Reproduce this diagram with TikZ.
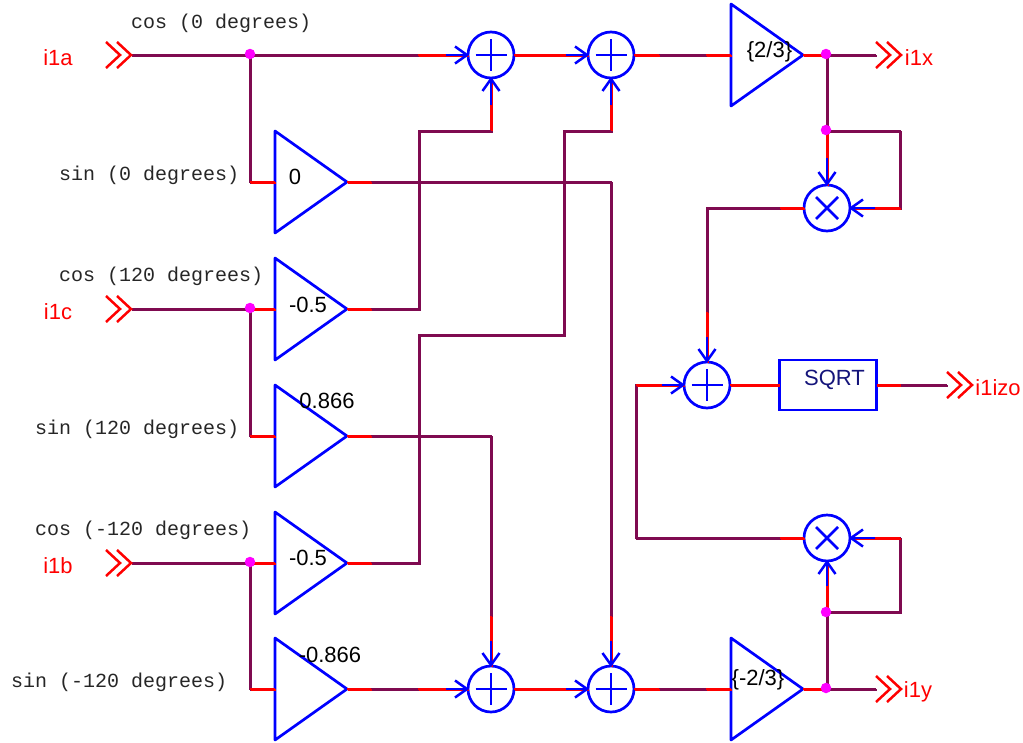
\documentclass[tikz,border=0pt]{standalone}
\usepackage{fontspec}
\setmainfont{Liberation Sans}
\newfontfamily\monof{Liberation Mono}
\usetikzlibrary{calc,arrows.meta,shapes.geometric}
\definecolor{wirec}{HTML}{7F0A50}
\definecolor{redc}{HTML}{FF0000}
\definecolor{bluec}{HTML}{0000FF}
\definecolor{dotc}{HTML}{FF00FF}
\definecolor{navyc}{HTML}{14147A}
\pgfdeclarearrow{
  name = VBarb,
  setup code = {\pgfarrowssettipend{1pt}\pgfarrowssetlineend{-1pt}\pgfarrowssetbackend{-12pt}\pgfarrowssetvisualbackend{-1pt}},
  drawing code = {\pgfsetlinewidth{2.5pt}\pgfsetmiterjoin\pgfsetbuttcap
    \pgfpathmoveto{\pgfqpoint{-12pt}{8.5pt}}\pgfpathlineto{\pgfqpoint{0pt}{0pt}}\pgfpathlineto{\pgfqpoint{-12pt}{-8.5pt}}\pgfusepathqstroke},
  defaults = {}
}
\tikzset{
  wire/.style={draw=wirec,line width=2.6pt,line join=miter,preaction={draw=wirec,line width=2.6pt,transform canvas={shift={(0.9pt,-0.9pt)}}}},
  stub/.style={draw=redc,line width=2.6pt,preaction={draw=redc,line width=2.6pt,transform canvas={shift={(0.9pt,-0.9pt)}}}},
  feed/.style={draw=bluec,line width=2.98pt,-{VBarb}},
  gain/.style={draw=bluec,line width=2.7pt,isosceles triangle,isosceles triangle stretches,minimum width=102pt,minimum height=72pt,inner sep=0pt,outer sep=0pt,anchor=lower side,line join=round},
  sumn/.style={draw=bluec,line width=2.7pt,circle,minimum size=46pt,inner sep=0pt,outer sep=0pt,
    path picture={\draw[bluec,line width=2.5pt] (path picture bounding box.center) +(-15.5,0) -- +(15.5,0) +(0,-16) -- +(0,16);}},
  muln/.style={draw=bluec,line width=2.7pt,circle,minimum size=46pt,inner sep=0pt,outer sep=0pt,
    path picture={\draw[bluec,line width=2.5pt] (path picture bounding box.center) +(-11,-11) -- +(11,11) +(-11,11) -- +(11,-11);}},
  boxn/.style={draw=bluec,line width=2.98pt,rectangle,minimum width=97pt,minimum height=50pt,inner sep=0pt,outer sep=0pt},
  dotn/.style={fill=dotc,circle,minimum size=10.5pt,inner sep=0pt,outer sep=0pt},
  chevn/.style={inner sep=0pt,outer sep=0pt,minimum size=0pt},
  chevs/.style={draw=redc,line width=2.5pt},
  redtext/.style={text=redc,font=\fontsize{22}{22}\selectfont,inner sep=0pt},
  gaintext/.style={text=black,font=\fontsize{22}{22}\selectfont,inner sep=0pt},
  monotext/.style={text=black!85,font=\monof\fontsize{20}{20}\selectfont,inner sep=0pt,anchor=west},
}
\newcommand{\chevat}[1]{\draw[chevs] (#1) ++(-14,-13) -- ++(14,13) -- ++(-14,13);
  \draw[chevs] (#1) ++(-25,-13) -- ++(14,13) -- ++(-14,13);}
\begin{document}
\begin{tikzpicture}[x=1pt,y=-1pt]
\useasboundingbox (0,0) rectangle (1023,742);
% ports
\node[chevn] (ia) at (131,55) {};
\node[chevn] (ic) at (131,309) {};
\node[chevn] (ib) at (131,563) {};
\node[chevn] (ox) at (901,55) {};
\node[chevn] (oy) at (901,689) {};
\node[chevn] (oz) at (972,385) {};
\node[chevn] (oxin) at (876,55) {};
\node[chevn] (oyin) at (876,689) {};
\node[chevn] (ozin) at (947,385) {};
% blocks
\node[gain] (t1) at (275,182) {};
\node[gain] (t2) at (275,309) {};
\node[gain] (t3) at (275,436) {};
\node[gain] (t4) at (275,563) {};
\node[gain] (t5) at (275,689) {};
\node[gain] (gx) at (731,55) {};
\node[gain] (gy) at (731,689) {};
\node[sumn] (s1) at (491,55) {};
\node[sumn] (s2) at (611,55) {};
\node[sumn] (s3) at (491,689) {};
\node[sumn] (s4) at (611,689) {};
\node[sumn] (s5) at (707,385) {};
\node[muln] (m1) at (827,208) {};
\node[muln] (m2) at (827,538) {};
\node[boxn] (sq) at (828,385) {};
% junction coordinates
\coordinate (ja) at (250,55);
\coordinate (jc) at (250,309);
\coordinate (jb) at (250,563);
\coordinate (jx) at (827,55);
\coordinate (jy) at (827,689);
\coordinate (lx) at (827,131);
\coordinate (ly) at (827,612);
% purple wires
\draw[wire] (ia.center) -- (s1.west);
\draw[wire] (ja) |- (t1.lower side);
\draw[wire] (ic.center) -- (t2.lower side);
\draw[wire] (jc) |- (t3.lower side);
\draw[wire] (ib.center) -- (t4.lower side);
\draw[wire] (jb) |- (t5.lower side);
\draw[wire] (t1.apex) -| (s4.north);
\draw[wire] (t2.apex) -| (419,131) -| (s1.south);
\draw[wire] (t3.apex) -| (s3.north);
\draw[wire] (t4.apex) -| (419,335) -| (564,131) -| (s2.south);
\draw[wire] (t5.apex) -- (s3.west);
\draw[wire] (s1.east) -- (s2.west);
\draw[wire] (s2.east) -- (gx.lower side);
\draw[wire] (s3.east) -- (s4.west);
\draw[wire] (s4.east) -- (gy.lower side);
\draw[wire] (gx.apex) -- (oxin.center);
\draw[wire] (gy.apex) -- (oyin.center);
\draw[wire] (jx) -- (lx);
\draw[wire] (jy) -- (ly);
\draw[wire] (lx) -- (900,131) |- (m1.east);
\draw[wire] (ly) -- (900,612) |- (m2.east);
\draw[wire] (m1.west) -| (s5.north);
\draw[wire] (m2.west) -- (636,538) |- (s5.west);
\draw[wire] (sq.east) -- (ozin.center);
% red stubs
\draw[stub] (jc) -- (t2.lower side);
\draw[stub] (jb) -- (t4.lower side);
\draw[stub] (250,182) -- (t1.lower side);
\draw[stub] (250,436) -- (t3.lower side);
\draw[stub] (250,689) -- (t5.lower side);
\foreach \n in {t1,t2,t3,t4,t5} {\draw[stub] (\n.apex) -- +(24,0);}
\draw[stub] (gx.apex) -- (jx);
\draw[stub] (gy.apex) -- (jy);
\draw[stub] (s1.west) -- +(-50,0);
\draw[stub] (s3.west) -- +(-50,0);
\draw[stub] (s1.east) -- (s2.west);
\draw[stub] (s3.east) -- (s4.west);
\draw[stub] (s2.east) -- +(25,0);
\draw[stub] (s4.east) -- +(25,0);
\draw[stub] (gx.lower side) -- +(-25,0);
\draw[stub] (gy.lower side) -- +(-25,0);
\draw[stub] (s1.south) -- +(0,52);
\draw[stub] (s2.south) -- +(0,52);
\draw[stub] (s3.north) -- +(0,-50);
\draw[stub] (s4.north) -- +(0,-50);
\draw[stub] (lx) -- (m1.north);
\draw[stub] (ly) -- (m2.south);
\draw[stub] (m1.east) -- +(50,0);
\draw[stub] (m2.east) -- +(50,0);
\draw[stub] (m1.west) -- +(-24,0);
\draw[stub] (m2.west) -- +(-24,0);
\draw[stub] (s5.north) -- +(0,-50);
\draw[stub] (s5.west) -- (636,385);
\draw[stub] (s5.east) -- (sq.west);
\draw[stub] (sq.east) -- +(24,0);
% blue arrows
\draw[feed] ($(s1.west)+(-22,0)$) -- (s1.west);
\draw[feed] ($(s2.west)+(-22,0)$) -- (s2.west);
\draw[feed] ($(s3.west)+(-22,0)$) -- (s3.west);
\draw[feed] ($(s4.west)+(-22,0)$) -- (s4.west);
\draw[feed] ($(s5.west)+(-22,0)$) -- (s5.west);
\draw[feed] ($(s1.south)+(0,27)$) -- (s1.south);
\draw[feed] ($(s2.south)+(0,27)$) -- (s2.south);
\draw[feed] ($(s3.north)+(0,-25)$) -- (s3.north);
\draw[feed] ($(s4.north)+(0,-25)$) -- (s4.north);
\draw[feed] ($(s5.north)+(0,-25)$) -- (s5.north);
\draw[feed] ($(m1.north)+(0,-27)$) -- (m1.north);
\draw[feed] ($(m2.south)+(0,25)$) -- (m2.south);
\draw[feed] ($(m1.east)+(25,0)$) -- (m1.east);
\draw[feed] ($(m2.east)+(25,0)$) -- (m2.east);
% chevrons
\chevat{ia.center}\chevat{ic.center}\chevat{ib.center}
\chevat{ox.center}\chevat{oy.center}\chevat{oz.center}
% dots
\node[dotn] (da) at (250,54) {};
\node[dotn] (dc) at (250,308) {};
\node[dotn] (db) at (250,562) {};
\node[dotn] (dx) at (826,54) {};
\node[dotn] (dlx) at (826,130) {};
\node[dotn] (dy) at (826,688) {};
\node[dotn] (dly) at (826,612) {};
% red labels
\node[redtext] (la) at (58,58) {i1a};
\node[redtext] (lc) at (58,312) {i1c};
\node[redtext] (lb) at (58,566) {i1b};
\node[redtext] (lox) at (919,58) {i1x};
\node[redtext] (loy) at (918,692) {i1y};
\node[redtext] (loz) at (998,388) {i1izo};
% gain labels
\node[gaintext] (g1) at (295,177) {0};
\node[gaintext] (g2) at (308,305) {-0.5};
\node[gaintext] (g3) at (327,401) {0.866};
\node[gaintext] (g4) at (308,558) {-0.5};
\node[gaintext] (g5) at (330,655) {-0.866};
\node[gaintext] (g6) at (769.5,52) {\{2/3\}};
\node[gaintext] (g7) at (758,680) {\{-2/3\}};
\node[gaintext,text=navyc] (g8) at (834.5,380) {SQRT};
% mono labels
\node[monotext] (c0) at (131,23) {cos (0 degrees)};
\node[monotext] (s0) at (59,175) {sin (0 degrees)};
\node[monotext] (c120) at (59,276) {cos (120 degrees)};
\node[monotext] (s120) at (35,429) {sin (120 degrees)};
\node[monotext] (cm120) at (35,530) {cos (-120 degrees)};
\node[monotext] (sm120) at (11,682) {sin (-120 degrees)};
\end{tikzpicture}
\end{document}
